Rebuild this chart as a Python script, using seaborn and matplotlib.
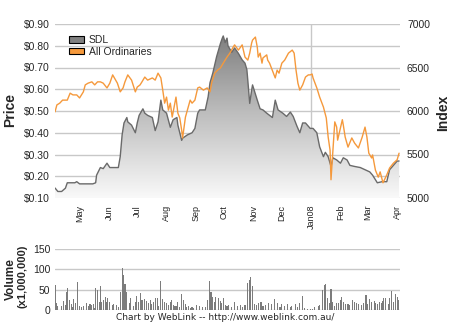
import numpy as np
import pandas as pd
import matplotlib
matplotlib.use("Agg")
import matplotlib.pyplot as plt
import matplotlib.dates as mdates
from matplotlib.patches import Patch
from matplotlib.colors import LinearSegmentedColormap
import seaborn as sns

# ---------------- data ----------------
start_date = "2007-04-05"

sdl_day = [0, 3, 7, 11, 13, 16, 21, 23, 26, 30, 35, 40, 43, 44, 48, 51, 55, 58, 61, 67,
           69, 71, 73, 76, 77, 81, 85, 87, 89, 93, 95, 98, 103, 106, 109, 112, 114, 118,
           122, 125, 129, 130, 134, 135, 140, 145, 148, 151, 153, 159, 162, 164, 167, 171,
           175, 177, 178, 180, 182, 183, 187, 190, 194, 198, 201, 203, 204, 206, 208, 209,
           214, 217, 220, 224, 230, 233, 236, 241, 245, 249, 252, 256, 259, 262, 265, 268,
           270, 273, 277, 280, 284, 286, 289, 292, 294, 298, 302, 305, 309, 312, 317, 323,
           328, 333, 336, 341, 346, 351, 354, 358, 362, 364]
sdl_price = [0.146, 0.13, 0.13, 0.145, 0.17, 0.17, 0.17, 0.175, 0.165, 0.165, 0.165, 0.165,
             0.17, 0.205, 0.24, 0.235, 0.26, 0.24, 0.24, 0.24, 0.29, 0.39, 0.445, 0.47, 0.45,
             0.435, 0.40, 0.445, 0.48, 0.51, 0.49, 0.48, 0.47, 0.41, 0.45, 0.55, 0.505, 0.49,
             0.425, 0.46, 0.47, 0.435, 0.365, 0.375, 0.39, 0.40, 0.42, 0.49, 0.505, 0.505,
             0.565, 0.63, 0.675, 0.75, 0.81, 0.835, 0.845, 0.815, 0.835, 0.80, 0.77, 0.79,
             0.765, 0.735, 0.72, 0.69, 0.64, 0.535, 0.595, 0.62, 0.55, 0.51, 0.505, 0.49,
             0.47, 0.55, 0.505, 0.49, 0.475, 0.495, 0.475, 0.43, 0.40, 0.445, 0.445, 0.43,
             0.42, 0.42, 0.40, 0.335, 0.29, 0.31, 0.29, 0.245, 0.285, 0.275, 0.26, 0.285,
             0.275, 0.25, 0.245, 0.24, 0.23, 0.22, 0.205, 0.17, 0.175, 0.175, 0.23, 0.25,
             0.27, 0.27]

ords_day = [0, 2, 5, 8, 13, 16, 19, 23, 26, 30, 32, 35, 39, 42, 45, 48, 51, 55, 58, 61, 66,
            69, 72, 74, 77, 81, 85, 87, 90, 92, 95, 98, 103, 106, 109, 112, 114, 116, 118,
            120, 122, 124, 126, 128, 130, 132, 134, 135, 138, 141, 143, 145, 148, 151, 153,
            157, 161, 164, 166, 169, 172, 175, 178, 182, 185, 188, 190, 194, 198, 201, 204,
            206, 208, 209, 212, 214, 215, 217, 219, 220, 224, 225, 227, 231, 233, 235, 237,
            240, 243, 247, 251, 253, 255, 257, 259, 262, 265, 268, 270, 272, 273, 277, 280,
            284, 287, 289, 291, 292, 294, 296, 298, 299, 304, 305, 307, 310, 314, 317, 321,
            325, 328, 330, 332, 335, 336, 339, 342, 344, 347, 351, 354, 358, 362, 364]
ords_index = [5990, 6070, 6090, 6125, 6125, 6205, 6185, 6185, 6150, 6220, 6300, 6320, 6335,
              6300, 6335, 6335, 6320, 6265, 6320, 6415, 6320, 6220, 6265, 6335, 6415, 6355,
              6220, 6275, 6300, 6335, 6390, 6355, 6380, 6355, 6435, 6380, 6240, 6090, 6160,
              6010, 6090, 5930, 6045, 6160, 5975, 5920, 5780, 5690, 5930, 6045, 6125, 6090,
              6125, 6265, 6275, 6240, 6265, 6220, 6335, 6435, 6470, 6495, 6550, 6620, 6665,
              6725, 6760, 6700, 6760, 6620, 6585, 6665, 6780, 6815, 6850, 6735, 6620, 6665,
              6550, 6610, 6645, 6585, 6550, 6435, 6380, 6470, 6435, 6550, 6585, 6665, 6700,
              6665, 6470, 6320, 6240, 6300, 6390, 6415, 6415, 6425, 6380, 6265, 6160, 6045,
              5920, 5700, 5550, 5210, 5550, 5875, 5815, 5665, 5900, 5840, 5700, 5585, 5690,
              5630, 5575, 5700, 5815, 5700, 5515, 5460, 5495, 5320, 5240, 5300, 5175, 5265,
              5345, 5400, 5440, 5515]

vol_day = [0, 1, 3, 7, 9, 11, 12, 13, 15, 17, 19, 20, 22, 24, 26, 28, 30, 33, 35, 37, 39,
           41, 42, 43, 45, 47, 48, 49, 51, 53, 55, 56, 58, 61, 62, 65, 67, 69, 71, 72, 74,
           75, 76, 79, 80, 83, 85, 86, 88, 90, 92, 93, 95, 97, 99, 101, 102, 104, 106, 108,
           109, 112, 114, 116, 118, 120, 122, 123, 125, 127, 129, 130, 132, 134, 136, 138,
           139, 141, 143, 145, 146, 150, 153, 156, 159, 161, 163, 165, 167, 169, 170, 173,
           175, 176, 178, 180, 182, 184, 187, 190, 193, 196, 198, 201, 204, 206, 207, 209,
           211, 213, 215, 218, 220, 223, 226, 229, 232, 235, 238, 240, 243, 246, 249, 250,
           254, 257, 259, 262, 264, 267, 270, 272, 275, 279, 280, 283, 285, 286, 288, 290,
           292, 293, 296, 298, 300, 302, 303, 305, 307, 309, 310, 312, 315, 317, 319, 321,
           324, 326, 329, 331, 333, 335, 338, 339, 341, 343, 345, 347, 348, 350, 353, 354,
           356, 358, 360, 362, 363]
vol_value = [61, 18, 10, 10, 22, 12, 45, 53, 25, 15, 8, 26, 18, 70, 10, 8, 10, 18, 10, 15,
             12, 15, 6, 53, 49, 20, 59, 20, 25, 33, 20, 29, 20, 12, 15, 12, 8, 45, 103, 86,
             64, 56, 45, 16, 29, 10, 20, 34, 20, 41, 25, 16, 26, 23, 16, 25, 15, 20, 29, 29,
             10, 72, 26, 20, 16, 12, 20, 25, 12, 10, 10, 20, 8, 39, 25, 15, 8, 10, 6, 8, 6,
             12, 10, 8, 8, 25, 72, 45, 33, 20, 33, 29, 23, 16, 29, 12, 10, 12, 8, 20, 10, 12,
             8, 12, 66, 75, 82, 59, 15, 12, 16, 20, 10, 12, 16, 15, 27, 18, 8, 15, 10, 15, 8,
             10, 15, 8, 16, 34, 6, 3, 3, 3, 8, 10, 12, 49, 61, 64, 29, 16, 51, 20, 10, 18, 16,
             25, 33, 20, 15, 10, 15, 12, 25, 20, 16, 15, 12, 18, 37, 15, 26, 20, 23, 18, 15,
             20, 18, 23, 29, 29, 15, 29, 47, 20, 39, 33, 25]

month_starts = ["2007-05-01", "2007-06-01", "2007-07-01", "2007-08-01", "2007-09-01",
                "2007-10-01", "2007-11-01", "2007-12-01", "2008-01-01", "2008-02-01",
                "2008-03-01", "2008-04-01"]
month_labels = ["May", "Jun", "Jul", "Aug", "Sep", "Oct", "Nov", "Dec", "Jan08", "Feb",
                "Mar", "Apr"]
price_ticks = [0.10, 0.20, 0.30, 0.40, 0.50, 0.60, 0.70, 0.80, 0.90]
index_ticks = [5000, 5500, 6000, 6500, 7000]
vol_ticks = [0, 50, 100, 150]

# ---------------- style ----------------
sns.set_theme(style="white")
plt.rcParams['font.family'] = ['Liberation Sans', 'DejaVu Sans']

GRID = "#c8c8c8"
ORANGE = "#F5993C"
SDL_LINE = "#6a6a6a"

t0 = pd.Timestamp(start_date)
sdl = pd.DataFrame({"date": t0 + pd.to_timedelta(sdl_day, unit="D"), "price": sdl_price})
ords = pd.DataFrame({"date": t0 + pd.to_timedelta(ords_day, unit="D"), "index": ords_index})
vol = pd.DataFrame({"date": t0 + pd.to_timedelta(vol_day, unit="D"), "vol": vol_value})
xmin, xmax = t0, t0 + pd.Timedelta(days=365)

fig = plt.figure(figsize=(4.5, 3.25), dpi=100)
W, H = 450, 325
ax = fig.add_axes([55 / W, 1 - 198 / H, 345 / W, 174 / H])
ax2 = ax.twinx()
axv = fig.add_axes([55 / W, 1 - 310 / H, 345 / W, 61 / H])

# --- price panel ---
ax.set_ylim(0.10, 0.90)
ax.set_xlim(xmin, xmax)
ax.set_yticks(price_ticks)
ax.set_yticklabels([f"${v:.2f}" for v in price_ticks])
ax.grid(axis="y", color=GRID, lw=1)
ax.set_axisbelow(True)
ax.axvline(pd.Timestamp("2008-01-01"), color=GRID, lw=1, zorder=0.5)

coll = ax.fill_between(sdl["date"], sdl["price"], 0.10, facecolor="none", edgecolor="none")
path = coll.get_paths()[0]
cmap = LinearSegmentedColormap.from_list("g", ["#f9f9f9", "#bcbcbc", "#767676"])
grad = np.linspace(0, 1, 256).reshape(-1, 1)
x0n, x1n = mdates.date2num(xmin), mdates.date2num(xmax)
im = ax.imshow(grad, extent=[x0n, x1n, 0.10, 0.90], origin="lower", aspect="auto",
               cmap=cmap, zorder=1)
im.set_clip_path(path, transform=ax.transData)
sns.lineplot(data=sdl, x="date", y="price", ax=ax, color=SDL_LINE, lw=1, zorder=3)
ax.set_xlim(xmin, xmax)
ax.set_ylim(0.10, 0.90)

ax.set_xticks([pd.Timestamp(d) for d in month_starts])
ax.set_xticklabels(month_labels, rotation=90, fontsize=6.5)
ax.tick_params(axis="x", length=0, pad=5)
ax.tick_params(axis="y", length=0, pad=3.5, labelsize=7.5)
ax.set_xlabel("")
ax.set_ylabel("")

# --- index line ---
sns.lineplot(data=ords, x="date", y="index", ax=ax2, color=ORANGE, lw=1)
ax2.set_ylim(5000, 7000)
ax2.set_yticks(index_ticks)
ax2.set_yticklabels([str(v) for v in index_ticks])
ax2.tick_params(axis="y", length=0, pad=5, labelsize=7.5)
ax2.set_ylabel("")
ax2.set_xlim(xmin, xmax)

for a in (ax, ax2, axv):
    for s in a.spines.values():
        s.set_visible(False)

ax2.legend(handles=[Patch(facecolor="#808080", edgecolor="black", lw=0.8, label="SDL"),
                    Patch(facecolor=ORANGE, edgecolor="black", lw=0.8, label="All Ordinaries")],
           loc="upper left", bbox_to_anchor=(0.025, 0.965), frameon=False, fontsize=7.5,
           handlelength=1.5, handleheight=0.6, labelspacing=0.12, borderpad=0,
           handletextpad=0.4)

# --- volume panel ---
axv.bar(vol["date"], vol["vol"], width=1.2, color="#7c7c7c", linewidth=0,
        edgecolor="none", zorder=2)
axv.set_xlim(xmin, xmax)
axv.set_ylim(0, 150)
axv.set_yticks(vol_ticks)
axv.set_yticklabels([str(v) for v in vol_ticks])
axv.grid(axis="y", color=GRID, lw=1)
axv.set_axisbelow(True)
axv.set_xticks([])
axv.tick_params(axis="y", length=0, pad=3.5, labelsize=7.5)

# --- labels ---
fig.text(10 / W, 1 - 110 / H, "Price", rotation=90, ha="center", va="center",
         fontsize=10, fontweight="bold")
fig.text(443 / W, 1 - 113 / H, "Index", rotation=90, ha="center", va="center",
         fontsize=10, fontweight="bold")
fig.text(11 / W, 1 - 279 / H, "Volume", rotation=90, ha="center", va="center",
         fontsize=8.5, fontweight="bold")
fig.text(22 / W, 1 - 276 / H, "(x1,000,000)", rotation=90, ha="center", va="center",
         fontsize=8, fontweight="bold")
fig.text(0.5, 1 - 318 / H, "Chart by WebLink -- http://www.weblink.com.au/", ha="center",
         va="center", fontsize=6.5, family="DejaVu Sans")

fig.savefig("out.png", dpi=100)
